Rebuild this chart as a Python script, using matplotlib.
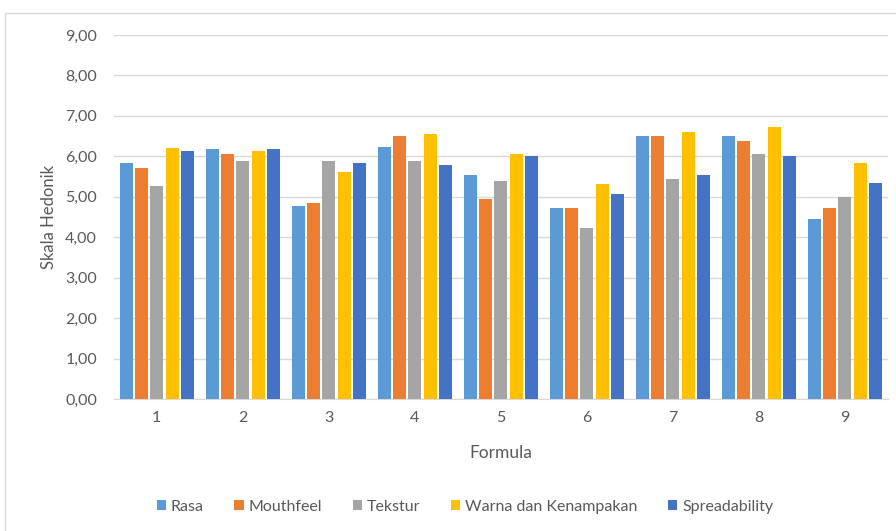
import numpy as np
import matplotlib
matplotlib.use("Agg")
import matplotlib.pyplot as plt
from matplotlib.patches import Rectangle
from matplotlib.ticker import FuncFormatter

plt.rcParams["font.family"] = ["Lato", "DejaVu Sans"]

# Nilai hedonik per formula
formula = ["1", "2", "3", "4", "5", "6", "7", "8", "9"]
rasa = [5.83, 6.17, 4.76, 6.22, 5.54, 4.72, 6.51, 6.51, 4.44]
mouthfeel = [5.71, 6.05, 4.84, 6.51, 4.95, 4.72, 6.51, 6.39, 4.72]
tekstur = [5.27, 5.88, 5.88, 5.88, 5.40, 4.22, 5.45, 6.05, 5.00]
warna = [6.21, 6.12, 5.61, 6.56, 6.05, 5.32, 6.60, 6.73, 5.84]
spreadability = [6.12, 6.17, 5.83, 5.78, 6.00, 5.06, 5.54, 6.00, 5.33]

series = [
    ("Rasa", rasa, "#5B9BD5"),
    ("Mouthfeel", mouthfeel, "#ED7D31"),
    ("Tekstur", tekstur, "#A5A5A5"),
    ("Warna dan Kenampakan", warna, "#FFC000"),
    ("Spreadability", spreadability, "#4472C4"),
]

fig = plt.figure(figsize=(8.96, 5.31), dpi=100)
ax = fig.add_axes([0.127, 0.2486, 0.864, 0.6855])

# outer chart border
fig.patches.append(Rectangle((5 / 896, -0.1), 1.2, 1.1 - 13 / 531,
                             transform=fig.transFigure, fill=False,
                             edgecolor="#D9D9D9", linewidth=1.0))

x = np.arange(len(formula))
pitch = 0.178
width = 0.152
for i, (name, vals, col) in enumerate(series):
    ax.bar(x + (i - 2) * pitch, vals, width=width, color=col, label=name,
           zorder=3)

ax.set_ylim(0, 9)
ax.set_xlim(-0.5, len(formula) - 0.5)
ax.set_yticks(np.arange(0, 10, 1))
ax.yaxis.set_major_formatter(FuncFormatter(lambda v, p: f"{v:.2f}".replace(".", ",")))
ax.set_xticks(x)
ax.set_xticklabels(formula)

ax.grid(axis="y", color="#D9D9D9", linewidth=1, zorder=0)
for s in ["top", "right", "left"]:
    ax.spines[s].set_visible(False)
ax.spines["bottom"].set_color("#D9D9D9")
ax.tick_params(length=0, colors="#595959", labelsize=11.5)
ax.tick_params(axis="y", pad=12)
ax.tick_params(axis="x", pad=9)

ax.set_ylabel("Skala Hedonik", fontsize=12, color="#595959", labelpad=6)
ax.set_xlabel("Formula", fontsize=12.5, color="#595959", labelpad=14)

leg = fig.legend(loc="center", bbox_to_anchor=(465 / 896, 1 - 507 / 531), ncol=5,
                 frameon=False, fontsize=11.5, handlelength=0.6, handleheight=0.6,
                 handletextpad=0.3, columnspacing=1.9)
for t in leg.get_texts():
    t.set_color("#595959")

fig.savefig("out.png", dpi=100)
